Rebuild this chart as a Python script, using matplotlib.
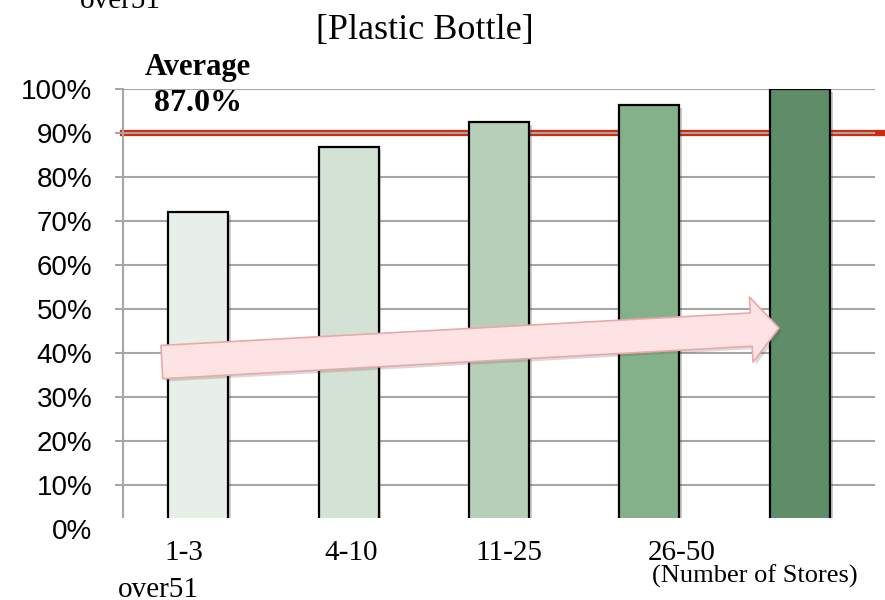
import matplotlib
matplotlib.use("Agg")
import matplotlib.pyplot as plt
import matplotlib.patheffects as pe
from matplotlib.patches import FancyArrowPatch, Rectangle

# data
categories = ["1-3", "4-10", "11-25", "26-50", "over51"]
values = [72.0, 86.8, 92.5, 96.4, 100.0]
bar_colors = ["#e8efe8", "#d3e2d4", "#b7cfb9", "#84b189", "#5f8d68"]
average_label = "87.0%"
average_line = 90.0
yticks = list(range(0, 101, 10))

serif = ["Liberation Serif", "DejaVu Serif"]
sans = ["Liberation Sans", "DejaVu Sans"]

fig = plt.figure(figsize=(8.85, 6), dpi=100)
ax = fig.add_axes([123 / 885, 71 / 600, 752 / 885, 440 / 600])

x = list(range(len(categories)))
ax.bar(x, values, width=0.4, color=bar_colors, edgecolor="black", linewidth=1.6,
       zorder=3,
       path_effects=[pe.SimplePatchShadow(offset=(2, -2), alpha=0.25), pe.Normal()])

# average line sits under the gridlines and runs past the plot edge
ax.axhline(average_line, xmin=0, xmax=(885 - 123) / 752, color="#d02a0c",
           linewidth=4.5, zorder=0.3, clip_on=False)

ax.set_xlim(-0.5, len(categories) - 0.5)
ax.set_ylim(0, 100)
ax.set_yticks(yticks)
ax.set_yticklabels([f"{t}%" for t in yticks], fontfamily=sans, fontsize=20)
ax.yaxis.grid(True, color="#a6a6a6", linewidth=1.5)
ax.set_axisbelow(True)
ax.tick_params(axis="y", length=6, width=1.5, color="#a6a6a6", pad=16)
ax.set_xticks([])
for s in ["top", "right", "bottom"]:
    ax.spines[s].set_visible(False)
ax.spines["left"].set_color("#a6a6a6")
ax.spines["left"].set_linewidth(1.5)

# the source image is cropped just above the 0% line
ax.add_patch(Rectangle((-0.02, -0.05), 1.04, 0.075, transform=ax.transAxes,
                       facecolor="white", edgecolor="none", zorder=6, clip_on=False))

# category labels, placed as in the original export
xt = ax.get_xaxis_transform()
label_x = [-0.093, 1.017, 2.068, 3.215]
for lx, lab in zip(label_x, categories[:4]):
    ax.text(lx, -0.0705, lab, transform=xt, ha="center", va="baseline",
            fontfamily=serif, fontsize=21, zorder=7)
ax.text(-0.266, -0.1545, categories[4], transform=xt, ha="center", va="baseline",
        fontfamily=serif, fontsize=21, zorder=7)
ax.text(3.70, -0.1227, "(Number of Stores)", transform=xt, ha="center",
        va="baseline", fontfamily=serif, fontsize=19, zorder=7)

# stray wrapped label cut off at the top edge
fig.text(120 / 885, 592 / 600, categories[4], ha="center", va="baseline",
         fontfamily=serif, fontsize=21)

fig.text(425 / 885, 1 - 30 / 600, "[Plastic Bottle]", ha="center", va="center",
         fontfamily=serif, fontsize=26)

ax.text(0, 1 + 22 / 440, "Average", transform=xt, ha="center", va="center",
        fontfamily=serif, fontsize=22, fontweight="bold")
ax.text(0, 1 - 14 / 440, average_label, transform=xt, ha="center", va="center",
        fontfamily=serif, fontsize=23, fontweight="bold")

# trend arrow
arrow = FancyArrowPatch((-0.26, 37.9), (3.88, 45.7),
                        arrowstyle="simple,head_length=20,head_width=47,tail_width=24",
                        mutation_scale=1, facecolor="#fde3e3", edgecolor="#e9a9a9",
                        linewidth=1.2, zorder=5,
                        path_effects=[pe.SimplePatchShadow(offset=(2, -2), alpha=0.2),
                                      pe.Normal()])
ax.add_patch(arrow)

fig.savefig("out.png", dpi=100)
